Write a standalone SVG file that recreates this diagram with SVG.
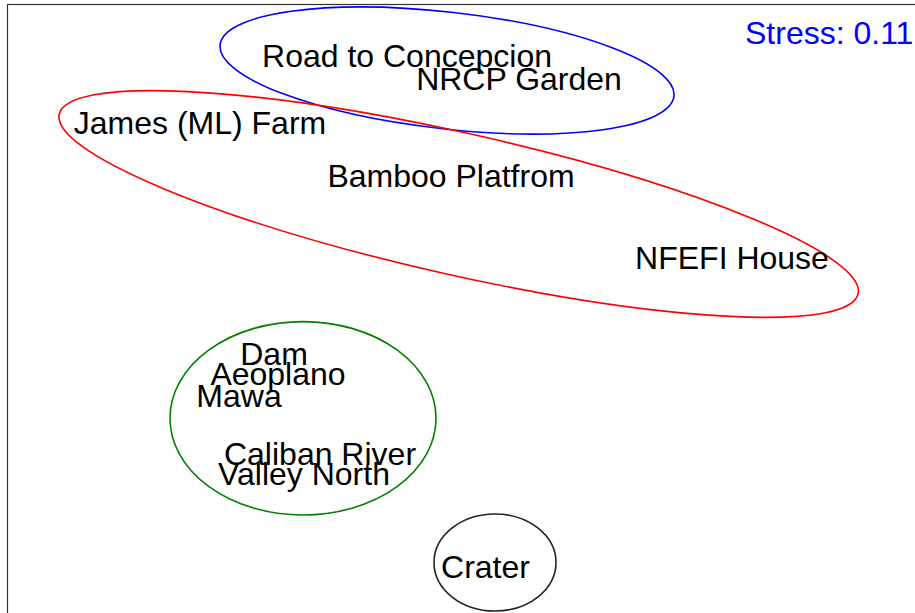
<svg xmlns="http://www.w3.org/2000/svg" width="915" height="613" viewBox="0 0 915 613">
<style>
.lbl{font-family:"Liberation Sans",Arial,sans-serif;font-size:32px;fill:#000;text-anchor:middle}
.hull{fill:none;stroke-width:1.6}
</style>
<rect x="0" y="0" width="915" height="613" fill="#fff"/>
<rect x="7.5" y="4.5" width="1000" height="1000" fill="none" stroke="#333" stroke-width="1.2"/>
<g id="hulls">
<ellipse id="hull-blue" class="hull" stroke="#0000ff" cx="447" cy="70.5" rx="228.4" ry="58.4" transform="rotate(6.46 447 70.5)"/>
<ellipse id="hull-red" class="hull" stroke="#ff0000" cx="458.7" cy="204" rx="409.4" ry="70.9" transform="rotate(12.67 458.7 204)"/>
<ellipse id="hull-green" class="hull" stroke="#008000" cx="303" cy="418.3" rx="133" ry="96.7"/>
<ellipse id="hull-black" class="hull" stroke="#222" cx="495" cy="562.5" rx="61" ry="48.5"/>
</g>
<g id="connectors"></g>
<g id="n-road"><text class="lbl" x="407" y="66.5">Road to Concepcion</text></g>
<g id="n-nrcp"><text class="lbl" x="519" y="90">NRCP Garden</text></g>
<g id="n-james"><text class="lbl" x="200" y="134">James (ML) Farm</text></g>
<g id="n-bamboo"><text class="lbl" x="451" y="186.5">Bamboo Platfrom</text></g>
<g id="n-nfefi"><text class="lbl" x="732" y="268.5">NFEFI House</text></g>
<g id="n-dam"><text class="lbl" x="274" y="364.5">Dam</text></g>
<g id="n-aeoplano"><text class="lbl" x="278" y="385">Aeoplano</text></g>
<g id="n-mawa"><text class="lbl" x="239" y="406.5">Mawa</text></g>
<g id="n-caliban"><text class="lbl" x="320" y="464.5">Caliban River</text></g>
<g id="n-valley"><text class="lbl" x="304" y="484.5">Valley North</text></g>
<g id="n-crater"><text class="lbl" x="485.5" y="577.5">Crater</text></g>
<g id="stress"><text x="745" y="44" style="font-family:'Liberation Sans',Arial,sans-serif;font-size:32px;fill:#0000ff">Stress: 0.11</text></g>
</svg>
